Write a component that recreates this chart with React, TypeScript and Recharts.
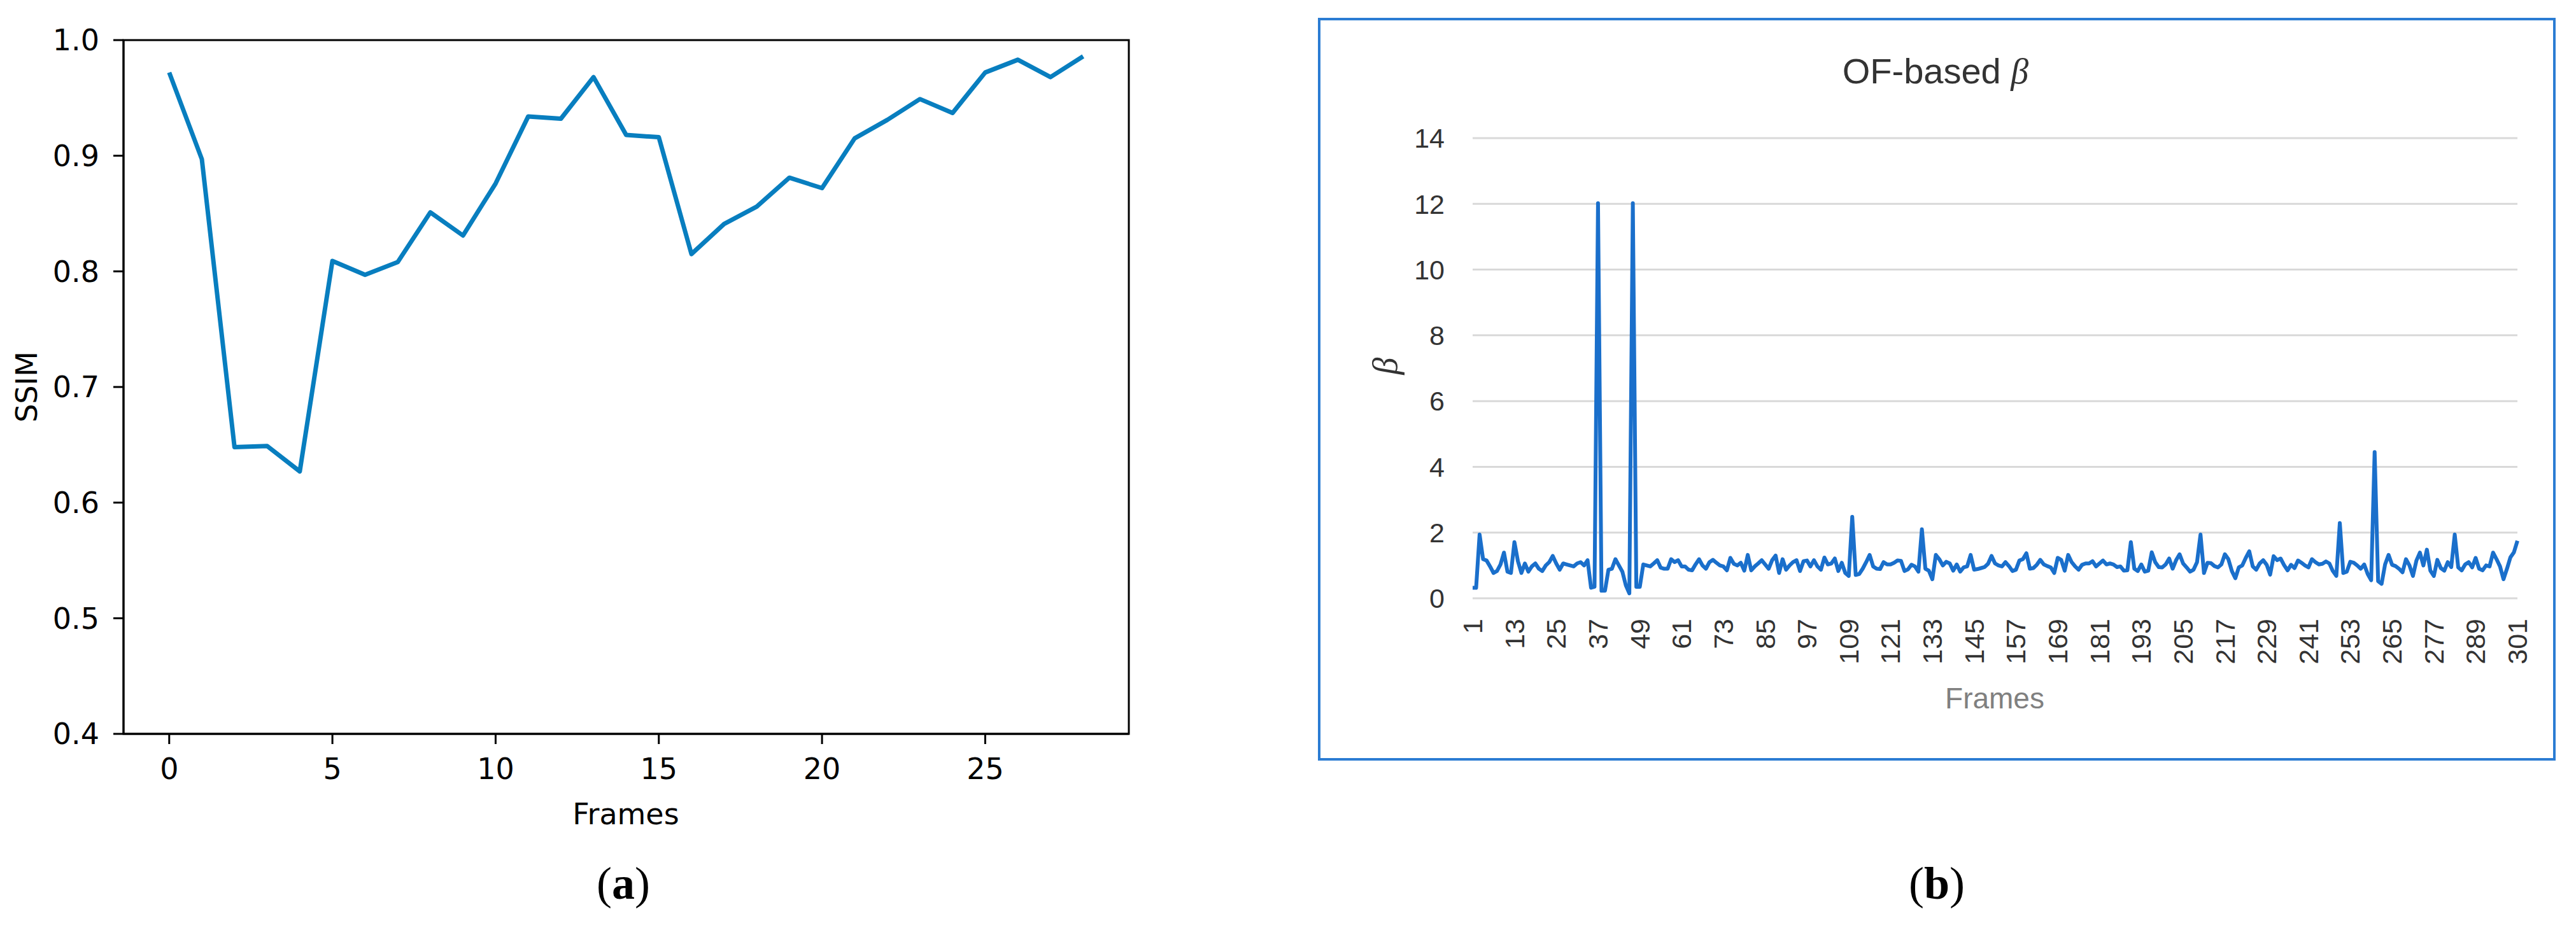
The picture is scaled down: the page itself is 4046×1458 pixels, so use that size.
import React from "react";
import {
  LineChart,
  Line,
  XAxis,
  YAxis,
  CartesianGrid,
  ReferenceArea,
} from "recharts";

// (a) SSIM per frame
const ssimFrames = [
  0, 1, 2, 3, 4, 5, 6, 7, 8, 9, 10, 11, 12, 13, 14, 15, 16, 17, 18, 19, 20,
  21, 22, 23, 24, 25, 26, 27, 28,
];
const ssimValues = [
  0.972, 0.897, 0.648, 0.649, 0.627, 0.809, 0.797, 0.808, 0.851, 0.831, 0.876,
  0.934, 0.932, 0.968, 0.918, 0.916, 0.815, 0.841, 0.856, 0.881, 0.872, 0.915,
  0.931, 0.949, 0.937, 0.972, 0.983, 0.968, 0.986,
];
const ssimTicksX = [0, 5, 10, 15, 20, 25];
const ssimTicksY = [0.4, 0.5, 0.6, 0.7, 0.8, 0.9, 1.0];

// (b) OF-based beta, frames 1..301
const betaValues = [
  0.32, 0.32, 1.94, 1.19, 1.15, 0.97, 0.77, 0.83, 1.03, 1.39,
  0.81, 0.77, 1.71, 1.13, 0.77, 1.06, 0.81, 0.97, 1.06, 0.9,
  0.83, 1.0, 1.1, 1.29, 1.06, 0.87, 1.06, 1.03, 1.0, 0.97,
  1.06, 1.1, 1.0, 1.16, 0.32, 0.35, 12.02, 0.23, 0.23, 0.87,
  0.9, 1.19, 1.0, 0.81, 0.39, 0.15, 12.02, 0.35, 0.35, 1.03,
  1.0, 0.97, 1.06, 1.16, 0.93, 0.9, 0.9, 1.19, 1.1, 1.16,
  0.97, 0.97, 0.87, 0.85, 1.03, 1.19, 1.0, 0.9, 1.1, 1.17,
  1.08, 1.0, 0.97, 0.85, 1.23, 1.05, 1.0, 1.08, 0.84, 1.32,
  0.85, 0.97, 1.06, 1.16, 1.03, 0.9, 1.16, 1.3, 0.77, 1.19,
  0.87, 1.0, 1.1, 1.16, 0.83, 1.13, 1.15, 0.97, 1.16, 0.97,
  0.87, 1.24, 1.03, 1.06, 1.21, 0.83, 1.08, 0.77, 0.68, 2.48,
  0.71, 0.74, 0.9, 1.1, 1.32, 0.97, 0.9, 0.89, 1.1, 1.03,
  1.03, 1.08, 1.15, 1.14, 0.83, 0.88, 1.02, 0.97, 0.81, 2.1,
  0.9, 0.84, 0.58, 1.32, 1.19, 1.0, 1.11, 1.06, 0.84, 1.03,
  0.81, 0.94, 0.97, 1.32, 0.87, 0.89, 0.92, 0.95, 1.05, 1.29,
  1.06, 1.0, 0.97, 1.1, 0.98, 0.83, 0.87, 1.15, 1.19, 1.37,
  0.9, 0.92, 1.02, 1.17, 1.03, 0.98, 0.94, 0.77, 1.23, 1.17,
  0.84, 1.32, 1.1, 0.97, 0.87, 1.02, 1.06, 1.06, 1.13, 0.97,
  1.06, 1.15, 1.03, 1.06, 1.03, 0.95, 0.97, 0.84, 0.85, 1.71,
  0.9, 0.83, 1.03, 0.81, 0.84, 1.4, 1.1, 0.95, 0.94, 1.03,
  1.21, 0.9, 1.16, 1.34, 1.06, 0.94, 0.81, 0.87, 1.1, 1.94,
  0.77, 1.08, 1.07, 0.98, 0.94, 1.03, 1.34, 1.19, 0.83, 0.61,
  0.94, 1.0, 1.23, 1.43, 0.97, 0.87, 1.06, 1.16, 1.02, 0.72,
  1.28, 1.16, 1.21, 1.01, 0.85, 1.02, 0.92, 1.15, 1.08, 1.0,
  0.94, 1.19, 1.1, 1.03, 1.05, 1.12, 1.06, 0.83, 0.68, 2.29,
  0.77, 0.81, 1.11, 1.08, 1.0, 0.9, 1.03, 0.74, 0.55, 4.45,
  0.52, 0.44, 1.03, 1.32, 1.02, 0.98, 0.9, 0.79, 1.19, 1.0,
  0.68, 1.15, 1.39, 1.0, 1.48, 0.84, 0.68, 1.17, 0.92, 0.84,
  1.1, 0.95, 1.94, 0.94, 0.85, 1.03, 1.1, 0.94, 1.23, 0.9,
  0.85, 1.0, 0.97, 1.39, 1.19, 0.97, 0.58, 0.9, 1.25, 1.4,
  1.75,
];
const betaTicksX = [
  1, 13, 25, 37, 49, 61, 73, 85, 97, 109, 121, 133, 145, 157, 169, 181, 193,
  205, 217, 229, 241, 253, 265, 277, 289, 301,
];
const betaTicksY = [0, 2, 4, 6, 8, 10, 12, 14];

const ssimData = ssimFrames.map((f, i) => ({ frame: f, ssim: ssimValues[i] }));
const betaData = betaValues.map((v, i) => ({ frame: i + 1, beta: v }));

const mplFont = "DejaVu Sans, sans-serif";
const xlFont = "Liberation Sans, Arial, sans-serif";

function RotatedTick(props: any) {
  const { x, y, payload } = props;
  const ty = y + 32;
  return (
    <text
      x={x}
      y={ty}
      transform={`rotate(-90, ${x}, ${ty})`}
      textAnchor="end"
      dy="0.35em"
      fontSize={43}
      fill="#333"
      fontFamily={xlFont}
    >
      {payload.value}
    </text>
  );
}

const abs = (left: number, top: number): React.CSSProperties => ({
  position: "absolute",
  left,
  top,
  transform: "translate(-50%, -50%)",
  whiteSpace: "nowrap",
  lineHeight: 1,
});

export default function App() {
  return (
    <div
      style={{
        position: "absolute",
        left: 0,
        top: 0,
        width: 4046,
        height: 1458,
        background: "#fff",
        overflow: "hidden",
      }}
    >
      {/* panel (a) */}
      <div style={{ position: "absolute", left: 0, top: 0 }}>
        <LineChart
          width={1900}
          height={1458}
          data={ssimData}
          margin={{ top: 63, right: 127, left: 0, bottom: 0 }}
        >
          <XAxis
            dataKey="frame"
            type="number"
            domain={[-1.4, 29.4]}
            ticks={ssimTicksX}
            interval={0}
            height={305}
            tickSize={16}
            tickMargin={22}
            axisLine={{ stroke: "#000", strokeWidth: 3 }}
            tickLine={{ stroke: "#000", strokeWidth: 3 }}
            tick={{ fontSize: 46, fill: "#000", fontFamily: mplFont }}
          />
          <YAxis
            type="number"
            domain={[0.4, 1.0]}
            ticks={ssimTicksY}
            interval={0}
            width={194}
            tickSize={16}
            tickMargin={22}
            tickFormatter={(v: number) => v.toFixed(1)}
            axisLine={{ stroke: "#000", strokeWidth: 3 }}
            tickLine={{ stroke: "#000", strokeWidth: 3 }}
            tick={{ fontSize: 46, fill: "#000", fontFamily: mplFont }}
          />
          <Line
            type="linear"
            dataKey="ssim"
            stroke="#087ebf"
            strokeWidth={7}
            strokeLinejoin="round"
            dot={false}
            activeDot={false}
            isAnimationActive={false}
          />
          <ReferenceArea
            x1={-1.4}
            x2={29.4}
            y1={0.4}
            y2={1.0}
            fill="none"
            fillOpacity={0}
            stroke="#000"
            strokeWidth={3}
            ifOverflow="visible"
          />
        </LineChart>
      </div>
      <div style={{ ...abs(983, 1279), fontFamily: mplFont, fontSize: 46 }}>Frames</div>
      <div
        style={{
          ...abs(42, 608),
          transform: "translate(-50%, -50%) rotate(-90deg)",
          fontFamily: mplFont,
          fontSize: 46,
        }}
      >
        SSIM
      </div>
      <div style={{ ...abs(979, 1388), fontFamily: "Liberation Serif, serif", fontSize: 72 }}>
        (<b>a</b>)
      </div>

      {/* panel (b) */}
      <div
        style={{
          position: "absolute",
          left: 2070,
          top: 28,
          width: 1944,
          height: 1167,
          border: "4px solid #2b7cd3",
          boxSizing: "border-box",
        }}
      />
      <div style={{ position: "absolute", left: 2070, top: 0 }}>
        <LineChart
          width={1976}
          height={1458}
          data={betaData}
          margin={{ top: 217, right: 92, left: 0, bottom: 0 }}
        >
          <CartesianGrid vertical={false} stroke="#d9d9d9" strokeWidth={3} />
          <XAxis
            dataKey="frame"
            type="number"
            domain={[1, 301]}
            ticks={betaTicksX}
            interval={0}
            height={518}
            tickSize={0}
            tickMargin={0}
            axisLine={false}
            tickLine={false}
            tick={<RotatedTick />}
          />
          <YAxis
            type="number"
            domain={[0, 14]}
            ticks={betaTicksY}
            interval={0}
            width={243}
            tickSize={0}
            tickMargin={44}
            axisLine={false}
            tickLine={false}
            tick={{ fontSize: 43, fill: "#333", fontFamily: xlFont }}
          />
          <Line
            type="linear"
            dataKey="beta"
            stroke="#1a6fcb"
            strokeWidth={6}
            strokeLinejoin="round"
            dot={false}
            activeDot={false}
            isAnimationActive={false}
          />
        </LineChart>
      </div>
      <div style={{ ...abs(3040, 112), fontFamily: xlFont, fontSize: 56, color: "#333" }}>
        OF-based <i style={{ fontFamily: "Liberation Serif, serif" }}>β</i>
      </div>
      <div
        style={{
          ...abs(2176, 575),
          transform: "translate(-50%, -50%) rotate(-90deg)",
          fontFamily: "Liberation Serif, serif",
          fontStyle: "italic",
          fontSize: 54,
          color: "#333",
        }}
      >
        β
      </div>
      <div style={{ ...abs(3133, 1097), fontFamily: xlFont, fontSize: 46, color: "#808080" }}>
        Frames
      </div>
      <div style={{ ...abs(3042, 1388), fontFamily: "Liberation Serif, serif", fontSize: 72 }}>
        (<b>b</b>)
      </div>
    </div>
  );
}
